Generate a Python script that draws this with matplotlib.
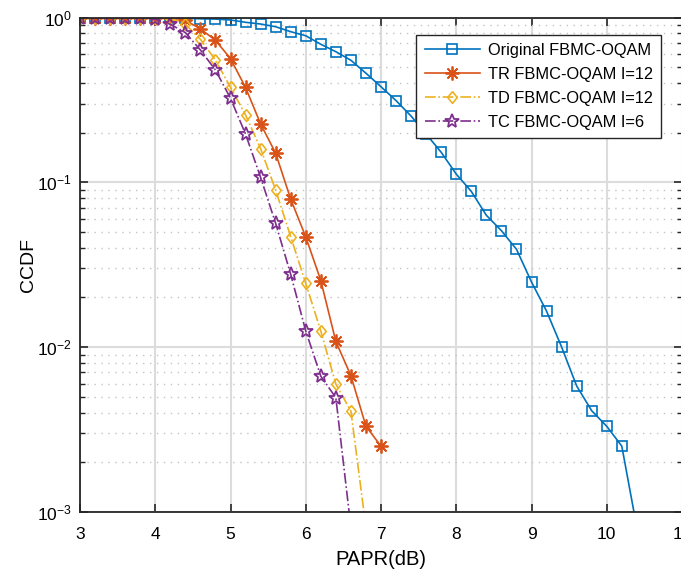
import matplotlib
matplotlib.use("Agg")
import matplotlib.pyplot as plt
from matplotlib.ticker import LogLocator, NullLocator

plt.rcParams['font.family'] = ['Liberation Sans', 'DejaVu Sans']

# PAPR axis (dB) for each curve
papr_orig = [3.0, 3.2, 3.4, 3.6, 3.8, 4.0, 4.2, 4.4, 4.6, 4.8, 5.0, 5.2, 5.4,
             5.6, 5.8, 6.0, 6.2, 6.4, 6.6, 6.8, 7.0, 7.2, 7.4, 7.6, 7.8, 8.0,
             8.2, 8.4, 8.6, 8.8, 9.0, 9.2, 9.4, 9.6, 9.8, 10.0, 10.2, 10.4]
papr_tr = [3.0, 3.2, 3.4, 3.6, 3.8, 4.0, 4.2, 4.4, 4.6, 4.8, 5.0, 5.2, 5.4,
           5.6, 5.8, 6.0, 6.2, 6.4, 6.6, 6.8, 7.0]
papr_td = [3.0, 3.2, 3.4, 3.6, 3.8, 4.0, 4.2, 4.4, 4.6, 4.8, 5.0, 5.2, 5.4,
           5.6, 5.8, 6.0, 6.2, 6.4, 6.6, 6.8]
papr_tc = [3.0, 3.2, 3.4, 3.6, 3.8, 4.0, 4.2, 4.4, 4.6, 4.8, 5.0, 5.2, 5.4,
           5.6, 5.8, 6.0, 6.2, 6.4, 6.6]

# CCDF values
ccdf_orig = [1.0, 1.0, 1.0, 1.0, 1.0, 1.0, 0.995, 0.989, 0.982, 0.978, 0.966,
             0.935, 0.913, 0.879, 0.820, 0.775, 0.688, 0.620, 0.550, 0.459,
             0.380, 0.313, 0.252, 0.196, 0.152, 0.112, 0.088, 0.063, 0.0508,
             0.0392, 0.0248, 0.0165, 0.0100, 0.0058, 0.0041, 0.0033, 0.0025,
             0.0008]
ccdf_tr = [1.0, 1.0, 1.0, 1.0, 1.0, 1.0, 1.0, 0.963, 0.853, 0.727, 0.563,
           0.376, 0.226, 0.150, 0.079, 0.0466, 0.0253, 0.0108, 0.0067, 0.0033,
           0.0025]
ccdf_td = [1.0, 1.0, 1.0, 1.0, 1.0, 1.0, 0.99, 0.91, 0.737, 0.552, 0.377,
           0.256, 0.160, 0.0897, 0.0467, 0.0243, 0.0125, 0.00595, 0.00408,
           0.0008]
ccdf_tc = [1.0, 1.0, 1.0, 1.0, 1.0, 0.975, 0.91, 0.81, 0.635, 0.48, 0.323,
           0.196, 0.107, 0.0563, 0.0276, 0.0125, 0.00665, 0.00492, 0.0008]

labels = ["Original FBMC-OQAM", "TR FBMC-OQAM I=12",
          "TD FBMC-OQAM I=12", "TC FBMC-OQAM I=6"]

fig = plt.figure(figsize=(6.81, 5.74), dpi=100)
ax = fig.add_axes([80 / 681, 62.3 / 574, 602 / 681, 494.2 / 574])

diamond = [(0, 1), (0.8, 0), (0, -1), (-0.8, 0), (0, 1)]

ax.plot(papr_orig, ccdf_orig, '-', color='#0072BD', lw=1.2, marker='s',
        ms=6.5, mfc='none', mew=1.2, label=labels[0])
ax.plot(papr_tr, ccdf_tr, '-', color='#D95319', lw=1.2, marker=(8, 2, 0),
        ms=10, mew=1.3, label=labels[1])
ax.plot(papr_td, ccdf_td, '-.', color='#EDB120', lw=1.2, marker=diamond,
        ms=8.5, mfc='none', mew=1.2, label=labels[2])
ax.plot(papr_tc, ccdf_tc, '-.', color='#7E2F8E', lw=1.2, marker='*',
        ms=10, mfc='none', mew=1.3, label=labels[3])

ax.set_yscale('log')
ax.set_xlim(3, 11)
ax.set_ylim(1e-3, 1)
ax.set_xticks([3, 4, 5, 6, 7, 8, 9, 10, 11])
ax.xaxis.set_minor_locator(NullLocator())
ax.yaxis.set_minor_locator(LogLocator(base=10, subs=range(2, 10)))

ax.grid(True, which='major', color='#dcdcdc', lw=1.5, ls='-')
ax.grid(True, which='minor', axis='y', color='#c4c4c4', lw=1, ls=(0, (1, 4)))
ax.set_axisbelow(True)

ax.tick_params(which='both', direction='in', top=True, right=True,
               labelsize=12.5, color='#262626')
ax.tick_params(which='major', length=6, width=1.2)
ax.tick_params(axis='x', which='major', pad=11)
ax.tick_params(axis='y', which='major', pad=6)
ax.tick_params(which='minor', length=3.5, width=1)
for sp in ax.spines.values():
    sp.set_linewidth(1.3)
    sp.set_color('#262626')

ax.set_xlabel("PAPR(dB)", fontsize=14.5, labelpad=6)
ax.set_ylabel("CCDF", fontsize=14, labelpad=0)

leg = ax.legend(loc='upper right', bbox_to_anchor=(0.965, 0.965),
                borderaxespad=0, fontsize=11.8, frameon=True, fancybox=False,
                edgecolor='#262626', framealpha=1, handlelength=3.4,
                handletextpad=0.45, labelspacing=0.55, borderpad=0.5)
leg.get_frame().set_linewidth(1.0)

fig.savefig("out.png", dpi=100)
